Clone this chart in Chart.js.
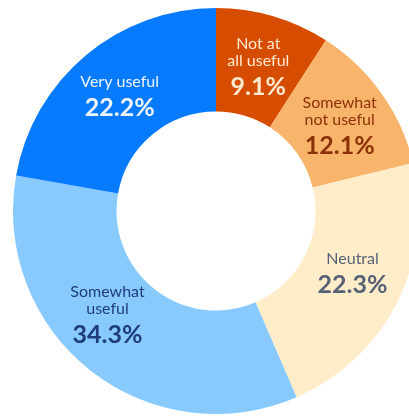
<!DOCTYPE html>
<html>
<head>
<meta charset="utf-8">
<script src="https://cdn.jsdelivr.net/npm/chart.js@4.4.1/dist/chart.umd.min.js"></script>
<style>
  html, body { margin: 0; padding: 0; background: #fff; overflow: hidden; width: 409px; height: 416px; }
  #wrap { position: absolute; left: 13px; top: 8px; width: 406px; height: 406px; }
</style>
</head>
<body>
<div id="wrap"><canvas id="usefulChart" width="406" height="406"></canvas></div>
<script>
// survey answers, clockwise from 12 o'clock
const categories = [
  ['Not at', 'all useful'],
  ['Somewhat', 'not useful'],
  ['Neutral'],
  ['Somewhat', 'useful'],
  ['Very useful']
];
const shares = [9.1, 12.1, 22.3, 34.3, 22.2];

const sliceColors = ['#d64c00', '#f8b46b', '#ffedc9', '#88cafe', '#067bff'];
const textColors = ['#ffe9cf', '#8c3208', '#586276', '#1f3c7c', '#eef5ff'];

// writes the category name and share inside each slice
const sliceLabels = {
  id: 'sliceLabels',
  afterDatasetsDraw(chart, args, opts) {
    const ctx = chart.ctx;
    const meta = chart.getDatasetMeta(0);
    meta.data.forEach(function (arc, i) {
      const mid = (arc.startAngle + arc.endAngle) / 2 + (opts.nudge[i] || 0) * Math.PI / 180;
      const bx = arc.x + Math.cos(mid) * opts.radius;
      const by = arc.y + Math.sin(mid) * opts.radius;
      const lines = chart.data.labels[i];
      const h = 45 + (lines.length - 1) * 17;
      let y = by - h / 2 + 8;
      ctx.save();
      ctx.textAlign = 'center';
      ctx.textBaseline = 'middle';
      ctx.fillStyle = textColors[i];
      ctx.font = '16px Lato';
      lines.forEach(function (line, k) {
        ctx.fillText(line, bx, y + k * 17);
      });
      ctx.font = 'bold 25px Lato';
      ctx.fillText(chart.data.datasets[0].data[i].toFixed(1) + '%', bx, y + (lines.length - 1) * 17 + 26);
      ctx.restore();
    });
  }
};

new Chart(document.getElementById('usefulChart'), {
  type: 'doughnut',
  data: {
    labels: categories,
    datasets: [{
      data: shares,
      backgroundColor: sliceColors,
      borderWidth: 0,
      hoverOffset: 0
    }]
  },
  options: {
    responsive: false,
    animation: false,
    cutout: '49%',
    layout: { padding: 0 },
    plugins: {
      legend: { display: false },
      tooltip: { enabled: false },
      sliceLabels: { radius: 150, nudge: [0, 1, -2, 8, 0] }
    }
  },
  plugins: [sliceLabels]
});
</script>
</body>
</html>
